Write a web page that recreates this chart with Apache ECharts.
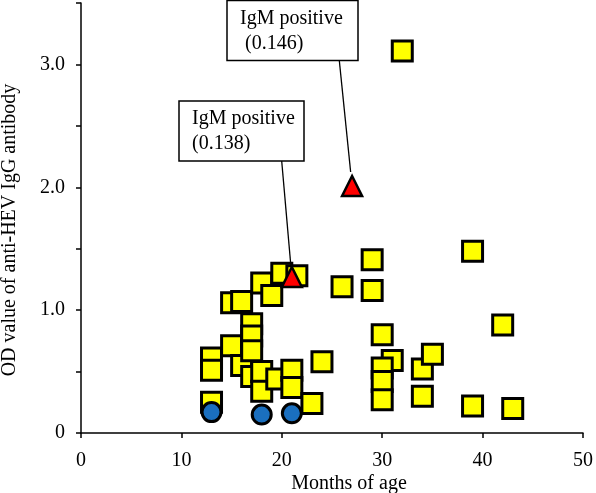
<!DOCTYPE html>
<html>
<head>
<meta charset="utf-8">
<script src="https://cdn.jsdelivr.net/npm/echarts@6/dist/echarts.min.js"></script>
<style>
html,body{margin:0;padding:0;background:#fff;}
#c{width:596px;height:493px;}
</style>
</head>
<body>
<div id="c"></div>
<script>
// Months of age (x) and OD values (y)
const squareX = [13, 13, 13, 15, 16, 15, 16, 17, 17, 17, 17, 18, 19, 20, 21.5, 18, 18, 19.5, 21, 21, 23, 24, 26, 29, 29, 30, 31, 30, 30, 30, 34, 35, 34, 32, 39, 42, 39, 43];
const squareY = [0.61, 0.51, 0.25, 1.06, 1.07, 0.71, 0.55, 0.89, 0.79, 0.67, 0.46, 1.22, 1.12, 1.30, 1.28, 0.50, 0.34, 0.44, 0.51, 0.37, 0.24, 0.58, 1.19, 1.41, 1.16, 0.80, 0.59, 0.53, 0.42, 0.27, 0.52, 0.64, 0.30, 3.11, 1.48, 0.88, 0.22, 0.20];
const circleX = [13, 18, 21];
const circleY = [0.17, 0.15, 0.16];
const triangleX = [21, 27];
const triangleY = [1.27, 2.01];
const annotationLines = [["IgM positive", "(0.138)"], ["IgM positive", " (0.146)"]];
const xTicks = [0, 10, 20, 30, 40, 50];
const yTickLabels = {0: "0", 1: "1.0", 2: "2.0", 3: "3.0"};

const FONT = '"Liberation Serif", "Times New Roman", serif';
const chart = echarts.init(document.getElementById('c'), null, {renderer: 'canvas'});

const zip = (a, b) => a.map((v, i) => [v, b[i]]);

const option = {
  animation: false,
  backgroundColor: '#fff',
  grid: {left: 81, right: 8, top: 3, bottom: 60, containLabel: false},
  xAxis: {
    type: 'value', min: xTicks[0], max: xTicks[xTicks.length - 1], interval: 10,
    axisLine: {show: true, onZero: false, lineStyle: {color: '#000', width: 1.5}},
    axisTick: {show: true, inside: false, length: 5, lineStyle: {color: '#000', width: 1.5}},
    axisLabel: {color: '#000', fontFamily: FONT, fontSize: 20, margin: 18},
    splitLine: {show: false}
  },
  yAxis: {
    type: 'value', min: 0, max: 3.5, interval: 0.5,
    axisLine: {show: true, onZero: false, lineStyle: {color: '#000', width: 1.5}},
    axisTick: {show: true, inside: false, length: 5, lineStyle: {color: '#000', width: 1.5}},
    axisLabel: {
      color: '#000', fontFamily: FONT, fontSize: 20, margin: 16,
      formatter: v => (Math.abs(v - Math.round(v)) < 1e-9 && yTickLabels[Math.round(v)] !== undefined) ? yTickLabels[Math.round(v)] : ''
    },
    splitLine: {show: false}
  },
  series: [
    {
      type: 'scatter', name: 'IgG', data: zip(squareX, squareY),
      symbol: 'rect', symbolSize: 20,
      itemStyle: {color: '#ffff00', borderColor: '#000', borderWidth: 3, opacity: 1},
      z: 2
    },
    {
      type: 'scatter', name: 'neg', data: zip(circleX, circleY),
      symbol: 'circle', symbolSize: 19,
      itemStyle: {color: '#1a6fbf', borderColor: '#000', borderWidth: 3, opacity: 1},
      z: 3
    },
    {
      type: 'scatter', name: 'IgM', data: zip(triangleX, triangleY),
      symbol: 'triangle', symbolSize: 20,
      itemStyle: {color: '#ff0000', borderColor: '#000', borderWidth: 2.5, opacity: 1},
      z: 4
    }
  ]
};
chart.setOption(option);

// Annotation boxes (pixel layout) with leader lines aimed at the triangles
const boxes = [
  {x: 179, y: 101, w: 125, h: 60, tx: 192, lines: annotationLines[0], lx: 281.7, tri: 0},
  {x: 227, y: 0.5, w: 131, h: 60, tx: 240, lines: annotationLines[1], lx: 339.3, tri: 1}
];
const graphics = [];
boxes.forEach(b => {
  const p = chart.convertToPixel({gridIndex: 0}, [triangleX[b.tri], triangleY[b.tri]]);
  const sx = b.lx, sy = b.y + b.h;
  const ey = p[1] - 14;
  const ex = sx + (p[0] - sx) * (ey - sy) / (p[1] - sy);
  graphics.push({type: 'line', shape: {x1: sx, y1: sy, x2: ex, y2: ey}, style: {stroke: '#000', lineWidth: 1.3}, z: 10});
  graphics.push({type: 'rect', shape: {x: b.x, y: b.y, width: b.w, height: b.h}, style: {fill: '#fff', stroke: '#000', lineWidth: 1.5}, z: 10});
  graphics.push({type: 'text', x: b.tx, y: b.y + 18, style: {text: b.lines[0], font: '20px ' + FONT, fill: '#000', textVerticalAlign: 'middle'}, z: 11});
  graphics.push({type: 'text', x: b.tx, y: b.y + 43, style: {text: b.lines[1], font: '20px ' + FONT, fill: '#000', textVerticalAlign: 'middle'}, z: 11});
});
// Axis titles
graphics.push({type: 'text', x: 349, y: 484, style: {text: 'Months of age', font: '20px ' + FONT, fill: '#000', textAlign: 'center', textVerticalAlign: 'middle'}, z: 11});
graphics.push({type: 'text', x: 10, y: 230, rotation: Math.PI / 2, style: {text: 'OD value of anti-HEV IgG antibody', font: '20px ' + FONT, fill: '#000', textAlign: 'center', textVerticalAlign: 'middle'}, z: 11});
chart.setOption({graphic: graphics});
</script>
</body>
</html>
